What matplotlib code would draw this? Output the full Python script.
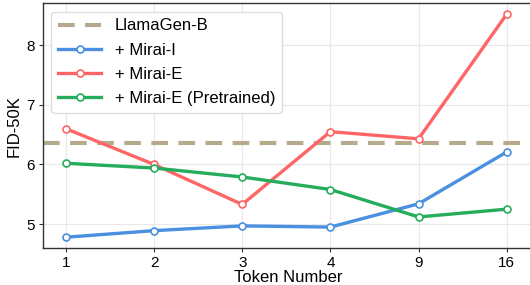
import numpy as np
import matplotlib.pyplot as plt

plt.rcParams['font.family'] = ['Liberation Sans', 'DejaVu Sans']

tokens = ["1", "2", "3", "4", "9", "16"]
llamagen_b = 6.36
mirai_i = [4.78, 4.89, 4.97, 4.95, 5.34, 6.21]
mirai_e = [6.60, 6.00, 5.33, 6.55, 6.43, 8.52]
mirai_e_pre = [6.02, 5.94, 5.79, 5.58, 5.12, 5.25]

x = np.arange(len(tokens))

fig = plt.figure(figsize=(5.3, 2.85), dpi=100)
ax = fig.add_axes([0.081, 0.13, 0.925, 0.858])

ax.grid(True, color='#e8e8e8', linewidth=0.8)
ax.set_axisbelow(True)

ax.axhline(llamagen_b, color='#b5ab8c', linestyle=(0, (4, 2.5)), linewidth=3,
           label='LlamaGen-B')
mk = dict(marker='o', markersize=5, markerfacecolor='white', markeredgewidth=1.2, linewidth=2.4)
ax.plot(x, mirai_i, color='#4a8fe0', label='+ Mirai-I', **mk)
ax.plot(x, mirai_e, color='#fe6666', label='+ Mirai-E', **mk)
ax.plot(x, mirai_e_pre, color='#26ad5c', label='+ Mirai-E (Pretrained)', **mk)

ax.set_xticks(x)
ax.set_xticklabels(tokens)
ax.set_yticks([5, 6, 7, 8])
ax.set_xlim(-0.26, 5.3)
ax.set_ylim(4.6, 8.7)
ax.tick_params(labelsize=11, length=3, color='#333333', pad=3)
ax.set_xlabel('Token Number', fontsize=12, labelpad=0)
ax.set_ylabel('FID-50K', fontsize=12, labelpad=3)

for s in ax.spines.values():
    s.set_color('#333333')
    s.set_linewidth(1.0)

ax.legend(loc='upper left', fontsize=12, frameon=True, framealpha=1,
          edgecolor='#dddddd', handlelength=2.6, borderaxespad=0.5, labelspacing=0.55,
          handletextpad=0.8)

fig.savefig('out.png', dpi=100)
